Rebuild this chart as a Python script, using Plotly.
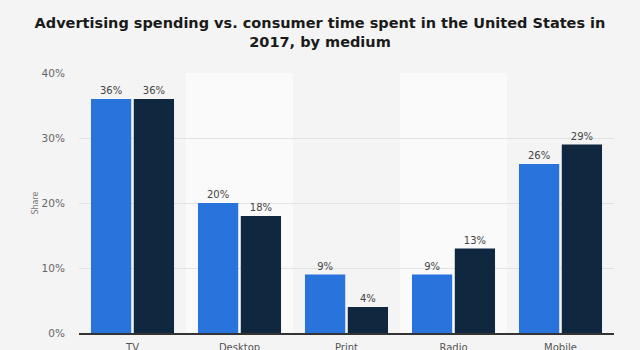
import plotly.graph_objects as go

categories = ["TV", "Desktop", "Print", "Radio", "Mobile"]
ad_spending = [36, 20, 9, 9, 26]
time_spent = [36, 18, 4, 13, 29]
y_ticks = [0, 10, 20, 30, 40]
y_tick_labels = ["0%", "10%", "20%", "30%", "40%"]

title = "Advertising spending vs. consumer time spent in the United States in<br>2017, by medium"

fig = go.Figure()
fig.add_trace(go.Bar(
    x=categories, y=ad_spending, name="Advertising spending",
    marker=dict(color="#2873dc", line=dict(width=0)),
    text=[f"{v}%" for v in ad_spending], textposition="outside",
    textfont=dict(size=10, color="#444444", family="DejaVu Sans"),
    cliponaxis=False,
))
fig.add_trace(go.Bar(
    x=categories, y=time_spent, name="Consumer time spent",
    marker=dict(color="#0f2840", line=dict(width=0)),
    text=[f"{v}%" for v in time_spent], textposition="outside",
    textfont=dict(size=10, color="#444444", family="DejaVu Sans"),
    cliponaxis=False,
))

# alternating category background bands
for i, c in enumerate(categories):
    if i % 2 == 1:
        fig.add_shape(type="rect", xref="x", yref="y",
                      x0=i - 0.5, x1=i + 0.5, y0=0, y1=y_ticks[-1],
                      fillcolor="#fafafa", line=dict(width=0), layer="below")

fig.update_layout(
    width=640, height=350,
    margin=dict(l=79, r=26, t=73, b=17, autoexpand=False),
    paper_bgcolor="#f4f4f4", plot_bgcolor="#f4f4f4",
    showlegend=False,
    barmode="group", bargap=0.2, bargroupgap=0.06,
    title=dict(text=title, x=0.5, xanchor="center", yref="container", y=1 - 28 / 350, yanchor="middle",
               font=dict(family="DejaVu Sans", size=14.5, color="#1a1a1a", weight="bold")),
    font=dict(family="DejaVu Sans", color="#666666"),
)
fig.update_xaxes(
    showline=True, linecolor="#333333", linewidth=1.5, automargin=False,
    tickfont=dict(size=10, color="#555555"), ticks="outside", ticklen=4,
    tickcolor="rgba(0,0,0,0)", showgrid=False,
)
fig.update_yaxes(
    range=[0, 40], tickvals=y_ticks, ticktext=y_tick_labels, automargin=False,
    showgrid=True, gridcolor="#e2e2e2", gridwidth=1, zeroline=False,
    ticks="outside", ticklen=11, tickcolor="rgba(0,0,0,0)",
    tickfont=dict(size=10.5, color="#666666"),
    title=dict(text="Share", font=dict(size=8, color="#777777"), standoff=1),
)

fig.write_html("out.html")
